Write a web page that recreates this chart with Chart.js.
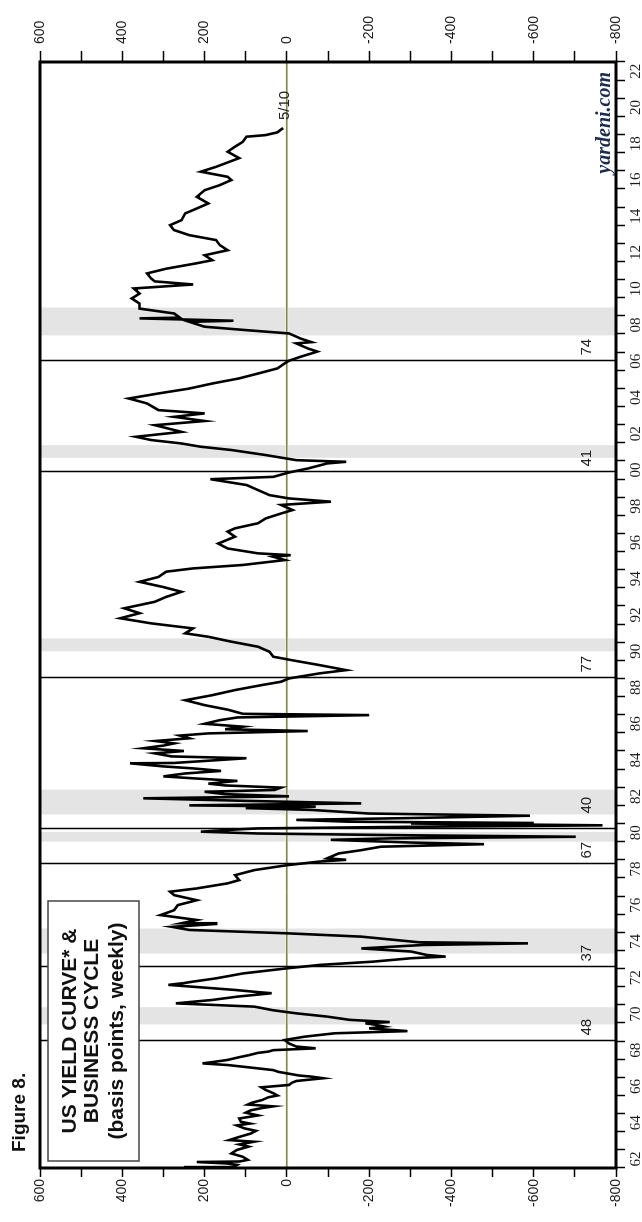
<!DOCTYPE html>
<html>
<head>
<meta charset="utf-8">
<title>US Yield Curve & Business Cycle</title>
<script src="https://cdn.jsdelivr.net/npm/chart.js@4.4.0/dist/chart.umd.min.js"></script>
<style>
  html, body { margin: 0; padding: 0; background: #fff; }
  body { width: 642px; height: 1222px; overflow: hidden; position: relative; }
  /* the chart is laid out landscape and turned a quarter left, like the printed page */
  #wrap { position: absolute; left: 0; top: 0; width: 1222px; height: 642px;
          transform-origin: 0 0; transform: rotate(-90deg) translateX(-1222px); }
</style>
</head>
<body>
<div id="wrap"><canvas id="yieldChart" width="1222" height="642"></canvas></div>
<script>
// weekly spread, 10yr Treasury minus federal funds (basis points)
const weekDates = [
  1962.00, 1962.05, 1962.17, 1962.25, 1962.33, 1962.36, 1962.45, 1962.62, 1962.80, 1963.00,
  1963.18, 1963.30, 1963.45, 1963.54, 1963.70, 1963.90, 1964.05, 1964.18, 1964.35, 1964.45,
  1964.55, 1964.73, 1964.90, 1965.05, 1965.18, 1965.30, 1965.40, 1965.50, 1965.60, 1965.75,
  1965.90, 1966.00, 1966.15, 1966.30, 1966.45, 1966.58, 1966.70, 1966.80, 1966.95, 1967.04,
  1967.10, 1967.20, 1967.30, 1967.40, 1967.55, 1967.68, 1967.77, 1967.86, 1967.96, 1968.10,
  1968.22, 1968.35, 1968.42, 1968.50, 1968.60, 1968.70, 1968.87, 1969.06, 1969.24, 1969.43,
  1969.55, 1969.60, 1969.70, 1969.80, 1969.90, 1969.98, 1970.05, 1970.17, 1970.35, 1970.53,
  1970.70, 1970.90, 1971.08, 1971.27, 1971.45, 1971.64, 1971.70, 1971.82, 1972.10, 1972.20,
  1972.28, 1972.46, 1972.73, 1973.00, 1973.20, 1973.38, 1973.57, 1973.66, 1973.75, 1973.94,
  1974.11, 1974.30, 1974.39, 1974.45, 1974.76, 1974.94, 1975.13, 1975.30, 1975.46, 1975.50,
  1975.68, 1975.95, 1976.22, 1976.50, 1976.77, 1977.05, 1977.24, 1977.42, 1977.70, 1977.88,
  1978.15, 1978.43, 1978.70, 1978.90, 1979.00, 1979.08, 1979.35, 1979.53, 1979.72, 1979.86,
  1979.95, 1980.10, 1980.18, 1980.27, 1980.35, 1980.45, 1980.55, 1980.64, 1980.73, 1980.82,
  1980.90, 1981.00, 1981.03, 1981.10, 1981.20, 1981.30, 1981.43, 1981.55, 1981.75, 1981.85,
  1981.93, 1982.00, 1982.08, 1982.11, 1982.25, 1982.39, 1982.50, 1982.62, 1982.75, 1982.85,
  1982.98, 1983.10, 1983.20, 1983.35, 1983.48, 1983.60, 1983.76, 1983.90, 1984.04, 1984.15,
  1984.32, 1984.34, 1984.45, 1984.60, 1984.70, 1984.87, 1985.00, 1985.15, 1985.30, 1985.42,
  1985.55, 1985.70, 1985.85, 1985.97, 1986.10, 1986.20, 1986.34, 1986.50, 1986.70, 1986.85,
  1986.98, 1987.05, 1987.28, 1987.53, 1987.80, 1988.08, 1988.36, 1988.64, 1988.82, 1989.00,
  1989.28, 1989.46, 1989.74, 1990.00, 1990.20, 1990.47, 1990.75, 1991.03, 1991.30, 1991.49,
  1991.76, 1992.04, 1992.32, 1992.60, 1992.87, 1993.23, 1993.50, 1993.78, 1994.05, 1994.33,
  1994.60, 1994.89, 1995.07, 1995.26, 1995.53, 1995.71, 1995.80, 1995.90, 1996.17, 1996.44,
  1996.82, 1997.10, 1997.28, 1997.56, 1997.83, 1998.10, 1998.29, 1998.57, 1998.75, 1998.93,
  1999.11, 1999.39, 1999.67, 1999.99, 2000.12, 2000.36, 2000.58, 2000.86, 2000.95, 2001.04,
  2001.32, 2001.60, 2001.78, 2001.96, 2002.15, 2002.33, 2002.60, 2002.97, 2003.20, 2003.43,
  2003.62, 2003.80, 2004.17, 2004.44, 2004.72, 2004.99, 2005.27, 2005.55, 2005.82, 2006.10,
  2006.38, 2006.52, 2006.74, 2006.93, 2007.03, 2007.20, 2007.48, 2007.55, 2007.75, 2008.03,
  2008.21, 2008.40, 2008.67, 2008.73, 2008.86, 2008.90, 2009.13, 2009.40, 2009.68, 2009.96,
  2010.23, 2010.51, 2010.73, 2010.90, 2011.06, 2011.34, 2011.60, 2011.90, 2012.07, 2012.34,
  2012.62, 2012.90, 2013.18, 2013.45, 2013.73, 2014.00, 2014.28, 2014.65, 2014.92, 2015.20,
  2015.56, 2015.93, 2016.21, 2016.49, 2016.67, 2016.95, 2017.22, 2017.70, 2018.05, 2018.33,
  2018.60, 2018.88, 2018.97, 2019.12, 2019.36
];
const spreadBp = [
   250,  130,  121,  145,  219,  115,   95,  107,  135,  121,
    93,  115,   80,  140,  118,   88,   75,  102,  122,   90,
   112,  116,   70,  100,   88,   62,   33,   95,   85,   60,
    45,   23,   35,   51,   62,   -5,  -12,  -23,  -88,  -60,
   -30,   -5,   20,   33,   92,  144,  205,  175,  144,  118,
    93,   70,   45,   33,  -70,  -23,   -5,    5,  -42, -116,
  -293, -265, -200, -237, -215, -191, -250, -153,  -98,  -23,
    33,   79,  270,  181,  121,   37,   70,  126,  288,  250,
   228,  172,  107,    5,  -79, -209, -302, -386, -340, -302,
  -181, -330, -586, -321, -181,   -5,  237,  279,  172,  256,
   219,  307,  274,  265,  219,  274,  284,  219,  144,  116,
   126,   79,    0,  -79, -144,  -98, -126, -181, -228, -479,
  -302, -107, -250, -702, -300,   70,  209,  150,   70, -300,
  -767, -302, -600, -150,  -23, -300, -591, -200,  -60,  100,
   -70,  237,  -60, -181,  100,  349,   -5,  150,  200,   30,
    14,  150,  191,  120,  219,  300,  247,  160,  228,  300,
   381,  274,  200,   98,  280,  321,  250,  349,  300,  274,
   320,  237,  260,  191,  -51,  150,  107,  200,  163,  120,
  -200,  107,  144,  200,  247,  181,  126,   60,   14,   -5,
   -79, -144,  -79,  -14,   33,   42,   70,  135,  191,  247,
   228,  330,  405,  358,  395,  321,  293,  256,  302,  358,
   312,  293,  228,  107,    5,   33,   -9,   70,  144,  167,
   126,  144,  126,   70,   51,   14,  -14,   14, -107,   -5,
    42,   70,   98,  186,   33,   -5,  -51,  -98, -144,  -23,
    51,  135,  209,  256,  330,  367,  256,  321,  200,  274,
   200,  312,  340,  384,  312,  237,  181,  116,   70,   23,
     5,   -5,  -33,  -60,  -74,  -51,  -23,  -60,  -33,   -5,
    98,  200,  237,  130,  358,  260,  274,  358,  358,  377,
   358,  372,  228,  321,  330,  340,  293,  219,  181,  200,
   144,  163,  172,  237,  274,  284,  256,  247,  219,  191,
   219,  200,  163,  135,  144,  209,  172,  116,  144,  126,
   107,   98,   51,   23,    9
];

// recessions (shaded)
const recessionStart = [1969.92, 1973.83, 1980.00, 1981.50, 1990.50, 2001.17, 2007.92];
const recessionEnd   = [1970.87, 1975.21, 1980.54, 1982.87, 1991.21, 2001.87, 2009.46];

// yield curve inversions (vertical lines) and the months noted beside them
const inversionDates = [1969.00, 1973.07, 1978.75, 1980.68, 1989.00, 2000.36, 2006.52];
const inversionMonths = ['48', '37', '67', '40', '77', '41', '74'];

const yearLabels = ['62','64','66','68','70','72','74','76','78','80','82','84','86','88','90',
                    '92','94','96','98','00','02','04','06','08','10','12','14','16','18','20','22'];
const valueLabels = [600, 400, 200, 0, -200, -400, -600, -800];

const sans = "'Liberation Sans', Arial, sans-serif";
const serif = "'Liberation Serif', 'Times New Roman', serif";

const decorations = {
  id: 'decorations',
  beforeDatasetsDraw(chart) {
    const { ctx, chartArea: a, scales: { x, y } } = chart;
    ctx.save();
    ctx.fillStyle = '#e4e4e4';
    recessionStart.forEach((s, i) => {
      const x0 = x.getPixelForValue(s);
      const x1 = x.getPixelForValue(recessionEnd[i]);
      ctx.fillRect(x0, a.top, x1 - x0, a.bottom - a.top);
    });

    // zero line
    const y0 = y.getPixelForValue(0);
    ctx.strokeStyle = '#f2f1cf';
    ctx.lineWidth = 3;
    ctx.beginPath(); ctx.moveTo(a.left, y0); ctx.lineTo(a.right, y0); ctx.stroke();
    ctx.strokeStyle = '#4a4a2c';
    ctx.lineWidth = 1;
    ctx.beginPath(); ctx.moveTo(a.left, y0); ctx.lineTo(a.right, y0); ctx.stroke();

    ctx.strokeStyle = '#000';
    ctx.lineWidth = 1.5;
    ctx.fillStyle = '#222';
    ctx.font = '15px ' + sans;
    ctx.textBaseline = 'middle';
    ctx.textAlign = 'left';
    inversionDates.forEach((d, i) => {
      const px = Math.round(x.getPixelForValue(d)) + 0.5;
      ctx.beginPath(); ctx.moveTo(px, a.top); ctx.lineTo(px, a.bottom); ctx.stroke();
      const nudge = inversionMonths[i] === '40' ? 15 : 5;
      ctx.fillText(inversionMonths[i], px + nudge, y.getPixelForValue(-728));
    });
    ctx.restore();
  },
  afterDraw(chart) {
    const { ctx, chartArea: a, scales: { x, y } } = chart;
    ctx.save();
    // frame
    ctx.strokeStyle = '#000';
    ctx.lineWidth = 3;
    ctx.strokeRect(a.left, a.top, a.right - a.left, a.bottom - a.top);

    // title box
    ctx.fillStyle = '#fff';
    ctx.fillRect(61, 48, 260, 91);
    ctx.strokeStyle = '#444';
    ctx.lineWidth = 1.5;
    ctx.strokeRect(61, 48, 260, 91);
    ctx.fillStyle = '#111';
    ctx.textAlign = 'center';
    ctx.textBaseline = 'middle';
    ctx.font = 'bold 21px ' + sans;
    ctx.fillText('US YIELD CURVE* &', 191, 70);
    ctx.fillText('BUSINESS CYCLE', 191, 92);
    ctx.fillText('(basis points, weekly)', 191, 117);

    ctx.textAlign = 'left';
    ctx.font = 'bold 19px ' + sans;
    ctx.fillText('Figure 8.', 70, 20);

    // latest reading
    const last = weekDates.length - 1;
    ctx.font = '15px ' + sans;
    ctx.fillStyle = '#222';
    ctx.fillText('5/10', x.getPixelForValue(weekDates[last]) + 8, y.getPixelForValue(0) - 2);

    ctx.textAlign = 'right';
    ctx.font = 'italic bold 20px ' + serif;
    ctx.fillStyle = '#1c2b4f';
    ctx.fillText('yardeni.com', 1150, 605);
    ctx.restore();
  }
};

const tickGrid = { drawOnChartArea: false, drawTicks: true, tickLength: 9, tickColor: '#000', tickWidth: 1.5 };

const ctx = document.getElementById('yieldChart');
const yieldChart = new Chart(ctx, {
  type: 'line',
  data: {
    datasets: [{
      data: weekDates.map((d, i) => ({ x: d, y: spreadBp[i] })),
      borderColor: '#000',
      borderWidth: 2.6,
      pointRadius: 0,
      tension: 0
    }]
  },
  options: {
    responsive: false,
    animation: false,
    devicePixelRatio: 1,
    layout: { padding: { top: 40, left: 0, right: 0, bottom: 0 } },
    plugins: { legend: { display: false }, tooltip: { enabled: false } },
    scales: {
      x: {
        type: 'linear',
        min: 1962,
        max: 2023,
        border: { display: false },
        grid: tickGrid,
        afterFit: s => { s.height = 26; },
        ticks: {
          stepSize: 1,
          maxTicksLimit: 100,
          autoSkip: false,
          maxRotation: 0,
          minRotation: 0,
          labelOffset: 9,
          padding: 2,
          color: '#1a1a1a',
          font: { family: serif, size: 15 },
          callback: v => (v - 1962) % 2 === 0 ? (yearLabels[(v - 1962) / 2] || '') : ''
        }
      },
      y: {
        position: 'left',
        min: -800,
        max: 600,
        border: { display: false },
        grid: tickGrid,
        afterFit: s => { s.width = 54; },
        ticks: {
          stepSize: 100,
          maxTicksLimit: 100,
          autoSkip: false,
          padding: 2,
          color: '#1a1a1a',
          font: { family: sans, size: 14 },
          callback: v => valueLabels.includes(v) ? String(v) : ''
        }
      },
      y2: {
        position: 'right',
        min: -800,
        max: 600,
        border: { display: false },
        grid: { ...tickGrid, tickLength: 11 },
        afterFit: s => { s.width = 62; },
        ticks: {
          stepSize: 100,
          maxTicksLimit: 100,
          autoSkip: false,
          padding: 7,
          color: '#1a1a1a',
          font: { family: sans, size: 14 },
          callback: v => valueLabels.includes(v) ? String(v) : ''
        }
      }
    }
  },
  plugins: [decorations]
});
</script>
</body>
</html>
